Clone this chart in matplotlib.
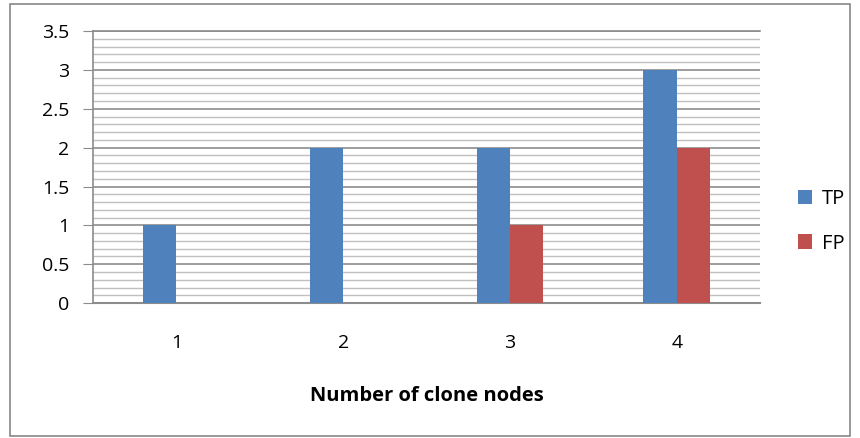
import numpy as np
import matplotlib.pyplot as plt
from matplotlib.patches import Rectangle
from matplotlib.ticker import MultipleLocator

plt.rcParams["font.family"] = ["Open Sans", "DejaVu Sans"]

categories = ["1", "2", "3", "4"]
tp_values = [1, 2, 2, 3]
fp_values = [0, 0, 1, 2]
y_ticks = [0, 0.5, 1, 1.5, 2, 2.5, 3, 3.5]
y_labels = ["0", "0.5", "1", "1.5", "2", "2.5", "3", "3.5"]

x = np.arange(len(categories))
bar_width = 0.2

fig = plt.figure(figsize=(8.6, 4.38), dpi=100)
ax = fig.add_axes([0.108, 0.308, 0.776, 0.621])

# outer chart border
fig.patches.append(Rectangle((10 / 860, 2 / 438), 840 / 860, 432 / 438,
                             transform=fig.transFigure, fill=False,
                             edgecolor="#888888", linewidth=1.2))

ax.bar(x - bar_width / 2, tp_values, width=bar_width, color="#4F81BD", label="TP", zorder=3)
ax.bar(x + bar_width / 2, fp_values, width=bar_width, color="#C0504D", label="FP", zorder=3)

ax.set_xlim(-0.5, 3.5)
ax.set_ylim(0, 3.5)
ax.set_yticks(y_ticks)
ax.set_yticklabels(y_labels)
ax.yaxis.set_minor_locator(MultipleLocator(0.1))
ax.grid(which="major", axis="y", color="#8c8c8c", linewidth=1.2, zorder=1)
ax.grid(which="minor", axis="y", color="#c0c0c0", linewidth=1.0, zorder=1)
ax.axhline(3.5, color="#8c8c8c", linewidth=1.2, clip_on=False, zorder=1)

ax.set_xticks(x)
ax.set_xticklabels(categories)
ax.tick_params(axis="x", length=0, pad=22, labelsize=14)
ax.tick_params(axis="y", which="major", length=7, color="#8c8c8c", labelsize=14, pad=10)
ax.tick_params(axis="y", which="minor", length=0)

for side in ["top", "right"]:
    ax.spines[side].set_visible(False)
ax.spines["left"].set_color("#8c8c8c")
ax.spines["bottom"].set_color("#8c8c8c")
ax.spines["left"].set_linewidth(1.2)
ax.spines["bottom"].set_linewidth(1.5)

ax.set_xlabel("Number of clone nodes", fontsize=14.5, fontweight="bold", labelpad=25)

ax.legend(loc="center left", bbox_to_anchor=(1.03, 0.30), frameon=False,
          fontsize=14.5, handlelength=0.7, handleheight=0.7, labelspacing=1.2,
          handletextpad=0.45)

fig.savefig("out.png", dpi=100)
